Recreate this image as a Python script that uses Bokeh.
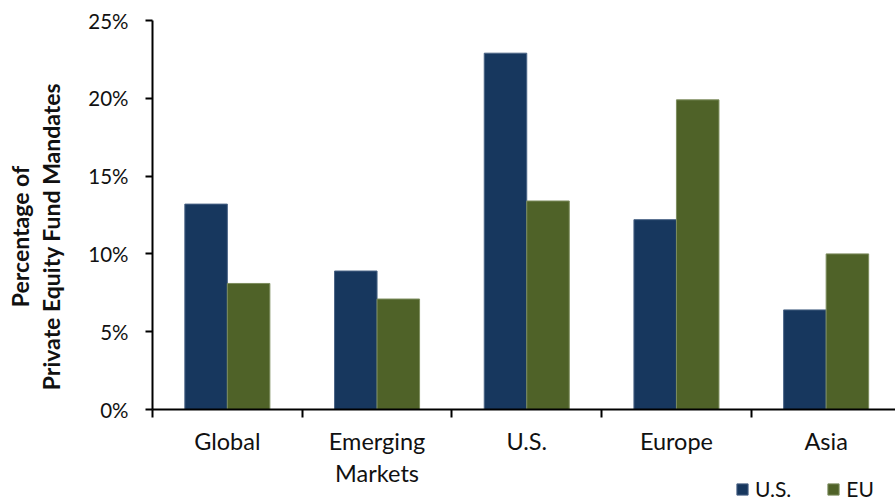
from math import pi

from bokeh.plotting import figure
from bokeh.models import (ColumnDataSource, FixedTicker, PrintfTickFormatter,
                          Range1d, Label, Legend, LegendItem)
from bokeh.embed import file_html
from bokeh.resources import INLINE

# Share of private equity fund mandates by target region (%)
regions = ["Global", "Emerging\nMarkets", "U.S.", "Europe", "Asia"]
us_share = [13.2, 8.9, 22.9, 12.2, 6.4]
eu_share = [8.1, 7.1, 13.4, 19.9, 10.0]
y_ticks = [0, 5, 10, 15, 20, 25]

NAVY = "#17375E"
OLIVE = "#4F6228"
FONT = "Lato"
TEXT = "#111111"

W, H = 895, 497
# plot area: origin at (152, 409) px, 25% at y=20 px, one region = 149.7 px
X0, Y0, YTOP = 152, 409, 20
X_PX = 149.7
Y_PX = (Y0 - YTOP) / 25.0

centers = [i + 0.5 for i in range(len(regions))]
bar_w = 0.284

us_src = ColumnDataSource(dict(x=[c - bar_w / 2 for c in centers], top=us_share))
eu_src = ColumnDataSource(dict(x=[c + bar_w / 2 for c in centers], top=eu_share))

# the frame spans the whole canvas; axes are pinned at x=0 and y=0
p = figure(width=W, height=H, output_backend="svg", toolbar_location=None,
           x_range=Range1d(-X0 / X_PX, (W - X0) / X_PX),
           y_range=Range1d(-(H - Y0) / Y_PX, 25 + YTOP / Y_PX),
           min_border=0)
p.outline_line_color = None
p.xgrid.grid_line_color = None
p.ygrid.grid_line_color = None
p.background_fill_color = "white"
p.border_fill_color = "white"

r_us = p.vbar(x="x", top="top", width=bar_w, source=us_src,
              fill_color=NAVY, line_color="#4A6486", line_width=1)
r_eu = p.vbar(x="x", top="top", width=bar_w, source=eu_src,
              fill_color=OLIVE, line_color="#7D8D5E", line_width=1)

# y axis: percent ticks pointing outward
ya = p.yaxis[0]
ya.fixed_location = 0
ya.bounds = (0, 25)
ya.ticker = FixedTicker(ticks=y_ticks, minor_ticks=[])
ya.formatter = PrintfTickFormatter(format="%d%%")
ya.axis_line_color = "black"
ya.axis_line_width = 2
ya.major_tick_line_color = "black"
ya.major_tick_line_width = 2
ya.major_tick_out = 7
ya.major_tick_in = 0
ya.minor_tick_line_color = None
ya.major_label_standoff = 17
ya.major_label_text_font = FONT
ya.major_label_text_font_size = "20.5px"
ya.major_label_text_color = TEXT

# x axis: labels at region centres, tick marks at region boundaries
xa = p.xaxis[0]
xa.fixed_location = 0
xa.bounds = (0, len(regions))
xa.ticker = FixedTicker(ticks=centers, minor_ticks=list(range(len(regions) + 1)))
xa.major_label_overrides = {c: r for c, r in zip(centers, regions)}
xa.axis_line_color = "black"
xa.axis_line_width = 2
xa.major_tick_line_color = None
xa.major_tick_out = 0
xa.major_tick_in = 0
xa.minor_tick_line_color = "black"
xa.minor_tick_line_width = 2
xa.minor_tick_out = 8
xa.minor_tick_in = 0
xa.major_label_standoff = 9
xa.major_label_text_font = FONT
xa.major_label_text_font_size = "23.5px"
xa.major_label_text_line_height = 1.15
xa.major_label_text_color = TEXT

# rotated two-line y title
p.add_layout(Label(x=35, y=H - 236, x_units="screen", y_units="screen",
                   text="Percentage of\nPrivate Equity Fund Mandates",
                   angle=pi / 2, text_align="center", text_baseline="middle",
                   text_font=FONT, text_font_style="bold",
                   text_font_size="23px", text_color=TEXT,
                   text_line_height=1.1))

legend = Legend(items=[LegendItem(label="U.S.", renderers=[r_us]),
                       LegendItem(label="EU", renderers=[r_eu])],
                orientation="horizontal", location=(735, -4),
                border_line_color=None, background_fill_alpha=0,
                padding=0, margin=0, spacing=35,
                glyph_width=14, glyph_height=14, label_standoff=6,
                label_height=24,
                label_text_font=FONT, label_text_font_size="21px",
                label_text_color=TEXT)
p.add_layout(legend)

open("out.html", "w").write(file_html(p, INLINE))
